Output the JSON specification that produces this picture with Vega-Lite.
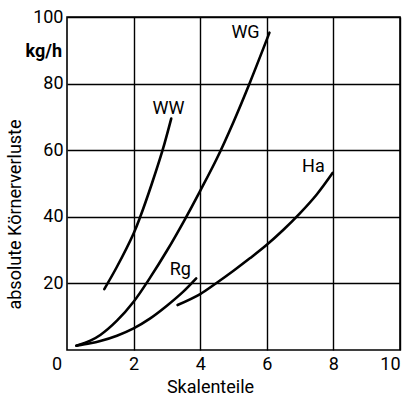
{
  "$schema": "https://vega.github.io/schema/vega-lite/v6.json",
  "width": 333,
  "height": 333,
  "autosize": {"type": "none"},
  "padding": {"left": 67, "top": 17, "right": 4, "bottom": 45},
  "background": "white",
  "config": {"view": {"stroke": "black", "strokeWidth": 1.6}, "font": "Roboto"},
  "datasets": {
    "curves": [
      {"curve": "WW", "x": 1.12, "y": 18.3},
      {"curve": "WW", "x": 1.5, "y": 25},
      {"curve": "WW", "x": 2.0, "y": 35},
      {"curve": "WW", "x": 2.2, "y": 40},
      {"curve": "WW", "x": 2.55, "y": 50},
      {"curve": "WW", "x": 2.87, "y": 60},
      {"curve": "WW", "x": 3.13, "y": 69.5},
      {"curve": "WG", "x": 0.28, "y": 1.3},
      {"curve": "WG", "x": 0.7, "y": 2.8},
      {"curve": "WG", "x": 1.0, "y": 4.5},
      {"curve": "WG", "x": 1.5, "y": 8.8},
      {"curve": "WG", "x": 2.0, "y": 14.5},
      {"curve": "WG", "x": 2.5, "y": 21.8},
      {"curve": "WG", "x": 3.0, "y": 29.8},
      {"curve": "WG", "x": 3.5, "y": 38.5},
      {"curve": "WG", "x": 4.0, "y": 47.8},
      {"curve": "WG", "x": 4.5, "y": 57.5},
      {"curve": "WG", "x": 5.0, "y": 68.5},
      {"curve": "WG", "x": 5.5, "y": 80.5},
      {"curve": "WG", "x": 6.08, "y": 95.3},
      {"curve": "Rg", "x": 0.28, "y": 1.3},
      {"curve": "Rg", "x": 0.7, "y": 2.0},
      {"curve": "Rg", "x": 1.0, "y": 2.7},
      {"curve": "Rg", "x": 1.5, "y": 4.3},
      {"curve": "Rg", "x": 2.0, "y": 6.5},
      {"curve": "Rg", "x": 2.5, "y": 9.5},
      {"curve": "Rg", "x": 3.0, "y": 13.3},
      {"curve": "Rg", "x": 3.5, "y": 17.6},
      {"curve": "Rg", "x": 3.88, "y": 21.5},
      {"curve": "Ha", "x": 3.32, "y": 13.5},
      {"curve": "Ha", "x": 4.0, "y": 16.8},
      {"curve": "Ha", "x": 4.5, "y": 20.2},
      {"curve": "Ha", "x": 5.0, "y": 23.8},
      {"curve": "Ha", "x": 5.5, "y": 27.6},
      {"curve": "Ha", "x": 6.0, "y": 31.6},
      {"curve": "Ha", "x": 6.5, "y": 36.1},
      {"curve": "Ha", "x": 7.0, "y": 41.1},
      {"curve": "Ha", "x": 7.5, "y": 46.7},
      {"curve": "Ha", "x": 7.98, "y": 53.2}
    ],
    "labels": [
      {"label": "WW", "x": 3.05, "y": 72.5},
      {"label": "WG", "x": 5.36, "y": 95.3},
      {"label": "Rg", "x": 3.4, "y": 24.0},
      {"label": "Ha", "x": 7.4, "y": 55.0}
    ],
    "extra": [
      {"label": "kg/h", "x": 0, "y": 89.5},
      {"label": "0", "x": 0, "y": 0}
    ]
  },
  "layer": [
    {
      "data": {"name": "curves"},
      "mark": {"type": "line", "interpolate": "catmull-rom", "color": "black", "strokeWidth": 2.6, "strokeCap": "round"},
      "encoding": {
        "x": {
          "field": "x", "type": "quantitative",
          "scale": {"domain": [0, 10], "nice": false, "zero": false},
          "axis": {
            "values": [2, 4, 6, 8, 10], "grid": true, "gridColor": "black", "gridWidth": 1.4, "gridOpacity": 1,
            "domain": false, "ticks": false, "tickSize": 0,
            "labelFontSize": 18, "labelColor": "black", "labelPadding": 5, "labelFont": "Roboto",
            "title": "Skalenteile", "titleFontSize": 18, "titleFontWeight": "normal", "titleColor": "black",
            "titleFont": "Roboto", "titleX": 143, "titleY": 37, "titleBaseline": "middle", "titleAlign": "center"
          }
        },
        "y": {
          "field": "y", "type": "quantitative",
          "scale": {"domain": [0, 100], "nice": false},
          "axis": {
            "values": [20, 40, 60, 80, 100], "grid": true, "gridColor": "black", "gridWidth": 1.4, "gridOpacity": 1,
            "domain": false, "ticks": false, "tickSize": 0,
            "labelFontSize": 18, "labelColor": "black", "labelPadding": 4, "labelFont": "Roboto",
            "title": "absolute Körnerverluste", "titleFontSize": 18, "titleFontWeight": "normal", "titleColor": "black",
            "titleFont": "Roboto", "titleX": -52, "titleY": 197, "titleBaseline": "middle", "titleAlign": "center", "titleAngle": -90
          }
        },
        "detail": {"field": "curve"}
      }
    },
    {
      "data": {"name": "labels"},
      "mark": {"type": "text", "fontSize": 18, "font": "Roboto", "color": "black", "baseline": "middle", "align": "center"},
      "encoding": {
        "x": {"field": "x", "type": "quantitative"},
        "y": {"field": "y", "type": "quantitative"},
        "text": {"field": "label"}
      }
    },
    {
      "data": {"name": "extra"},
      "transform": [{"filter": "datum.label == 'kg/h'"}],
      "mark": {"type": "text", "fontSize": 18, "font": "Roboto", "fontWeight": "bold", "color": "black", "baseline": "middle", "align": "right", "dx": -5},
      "encoding": {
        "x": {"field": "x", "type": "quantitative"},
        "y": {"field": "y", "type": "quantitative"},
        "text": {"field": "label"}
      }
    },
    {
      "data": {"name": "extra"},
      "transform": [{"filter": "datum.label == '0'"}],
      "mark": {"type": "text", "fontSize": 18, "font": "Roboto", "color": "black", "baseline": "middle", "align": "center", "dx": -10, "dy": 15},
      "encoding": {
        "x": {"field": "x", "type": "quantitative"},
        "y": {"field": "y", "type": "quantitative"},
        "text": {"field": "label"}
      }
    }
  ]
}
